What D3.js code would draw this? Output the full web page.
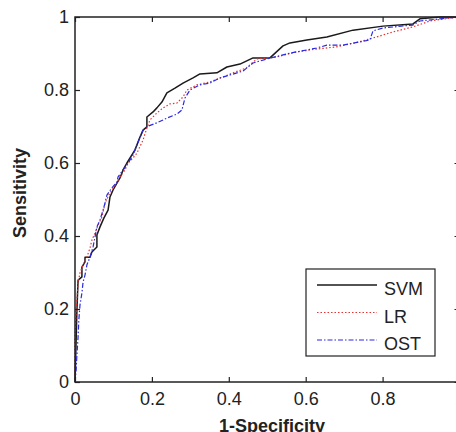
<!DOCTYPE html>
<html>
<head>
<meta charset="utf-8">
<script src="https://cdn.jsdelivr.net/npm/d3@7"></script>
<style>
  html, body { margin: 0; padding: 0; background: #fff; }
  svg { display: block; }
  text { font-family: "Liberation Sans", Arial, sans-serif; fill: #222; }
</style>
</head>
<body>
<svg id="chart" width="456" height="432"></svg>
<script>
// ---- Data ----
const tickValues = [0, 0.2, 0.4, 0.6, 0.8, 1];
const seriesNames = ["SVM", "LR", "OST"];

const svmFpr = [0, 0.003, 0.005, 0.008, 0.018, 0.018, 0.026, 0.026, 0.039, 0.044, 0.057, 0.057, 0.065, 0.075, 0.086, 0.091, 0.099, 0.109, 0.117, 0.125, 0.135, 0.148, 0.156, 0.169, 0.177, 0.187, 0.187, 0.203, 0.213, 0.226, 0.239, 0.260, 0.281, 0.307, 0.325, 0.369, 0.395, 0.429, 0.463, 0.507, 0.541, 0.559, 0.603, 0.655, 0.723, 0.801, 0.879, 0.897, 0.949, 1];
const svmTpr = [0, 0.115, 0.197, 0.279, 0.288, 0.315, 0.329, 0.342, 0.342, 0.356, 0.370, 0.403, 0.425, 0.449, 0.471, 0.507, 0.526, 0.545, 0.559, 0.581, 0.600, 0.622, 0.636, 0.671, 0.690, 0.699, 0.726, 0.740, 0.751, 0.767, 0.792, 0.805, 0.819, 0.833, 0.844, 0.847, 0.863, 0.871, 0.888, 0.888, 0.921, 0.929, 0.937, 0.945, 0.964, 0.975, 0.981, 0.995, 1, 1];

const lrFpr = [0, 0, 0.003, 0.005, 0.008, 0.013, 0.021, 0.031, 0.039, 0.044, 0.052, 0.060, 0.070, 0.078, 0.091, 0.109, 0.117, 0.130, 0.138, 0.151, 0.161, 0.177, 0.187, 0.195, 0.213, 0.229, 0.247, 0.265, 0.281, 0.291, 0.317, 0.351, 0.385, 0.411, 0.445, 0.473, 0.523, 0.575, 0.627, 0.679, 0.715, 0.739, 0.783, 0.827, 0.879, 0.923, 0.962, 1];
const lrTpr = [0, 0.115, 0.197, 0.225, 0.271, 0.299, 0.321, 0.342, 0.367, 0.389, 0.408, 0.430, 0.452, 0.490, 0.518, 0.545, 0.562, 0.581, 0.600, 0.614, 0.627, 0.663, 0.696, 0.718, 0.737, 0.751, 0.762, 0.764, 0.781, 0.800, 0.814, 0.822, 0.836, 0.847, 0.860, 0.885, 0.890, 0.904, 0.912, 0.918, 0.926, 0.932, 0.945, 0.959, 0.973, 0.989, 0.995, 1];

const ostFpr = [0, 0.003, 0.005, 0.008, 0.010, 0.013, 0.018, 0.021, 0.026, 0.031, 0.039, 0.047, 0.052, 0.057, 0.065, 0.073, 0.078, 0.083, 0.096, 0.109, 0.112, 0.125, 0.138, 0.151, 0.161, 0.177, 0.190, 0.213, 0.239, 0.265, 0.278, 0.286, 0.299, 0.325, 0.351, 0.377, 0.403, 0.437, 0.463, 0.499, 0.559, 0.629, 0.655, 0.697, 0.767, 0.775, 0.801, 0.879, 0.897, 0.949, 1];
const ostTpr = [0, 0.033, 0.074, 0.123, 0.170, 0.211, 0.244, 0.274, 0.293, 0.321, 0.342, 0.370, 0.397, 0.425, 0.444, 0.471, 0.490, 0.512, 0.532, 0.548, 0.562, 0.581, 0.600, 0.622, 0.649, 0.690, 0.701, 0.710, 0.723, 0.734, 0.745, 0.778, 0.800, 0.814, 0.819, 0.833, 0.841, 0.852, 0.874, 0.885, 0.901, 0.915, 0.923, 0.923, 0.937, 0.962, 0.970, 0.978, 0.989, 0.995, 1];

const series = [
  { name: seriesNames[0], fpr: svmFpr, tpr: svmTpr, color: "#1a1a1a", dash: null, width: 1.5 },
  { name: seriesNames[1], fpr: lrFpr,  tpr: lrTpr,  color: "#e8312f", dash: "1.5,2", width: 1.2 },
  { name: seriesNames[2], fpr: ostFpr, tpr: ostTpr, color: "#2a2ae0", dash: "5,2,1.5,2", width: 1.2 }
];

// ---- Layout ----
const svg = d3.select("#chart");
const mLeft = 75, mRight = 459.5, mTop = 17, mBottom = 382;
const x = d3.scaleLinear().domain([0, 1]).range([mLeft, mRight]);
const y = d3.scaleLinear().domain([0, 1]).range([mBottom, mTop]);
const fmt = d3.format("~g");
const fontSize = 18;

// Curves
const line = d3.line().x(d => x(d[0])).y(d => y(d[1]));
series.forEach(s => {
  const pts = s.fpr.map((v, i) => [v, s.tpr[i]]);
  svg.append("path")
    .datum(pts)
    .attr("d", line)
    .attr("fill", "none")
    .attr("stroke", s.color)
    .attr("stroke-width", s.width)
    .attr("stroke-dasharray", s.dash)
    .attr("stroke-linejoin", "round");
});

// Axes
function styleAxis(g, showLabels) {
  g.select(".domain").remove();
  g.selectAll(".tick line").attr("stroke", "#222").attr("stroke-width", 1.2);
  if (!showLabels) g.selectAll(".tick text").remove();
  else g.selectAll(".tick text").attr("font-size", fontSize).attr("fill", "#222")
        .attr("font-family", "Liberation Sans, Arial, sans-serif");
}

svg.append("g").attr("transform", `translate(0,${mBottom})`)
  .call(d3.axisBottom(x).tickValues(tickValues).tickFormat(fmt).tickSizeInner(-5).tickSizeOuter(0).tickPadding(10))
  .call(g => styleAxis(g, true));
svg.append("g").attr("transform", `translate(${mLeft},0)`)
  .call(d3.axisLeft(y).tickValues(tickValues).tickFormat(fmt).tickSizeInner(-5).tickSizeOuter(0).tickPadding(6))
  .call(g => styleAxis(g, true));
svg.append("g").attr("transform", `translate(0,${mTop})`)
  .call(d3.axisTop(x).tickValues(tickValues).tickSizeInner(-5).tickSizeOuter(0))
  .call(g => styleAxis(g, false));
svg.append("g").attr("transform", `translate(${mRight},0)`)
  .call(d3.axisRight(y).tickValues(tickValues).tickSizeInner(-5).tickSizeOuter(0))
  .call(g => styleAxis(g, false));

// Frame
svg.append("rect")
  .attr("x", mLeft).attr("y", mTop)
  .attr("width", mRight - mLeft).attr("height", mBottom - mTop)
  .attr("fill", "none").attr("stroke", "#222").attr("stroke-width", 1.5);

// Axis titles
svg.append("text")
  .attr("x", 272).attr("y", 432)
  .attr("text-anchor", "middle")
  .attr("font-size", fontSize).attr("font-weight", "bold")
  .text("1-Specificity");
svg.append("text")
  .attr("transform", `translate(26,193) rotate(-90)`)
  .attr("text-anchor", "middle")
  .attr("font-size", fontSize).attr("font-weight", "bold")
  .text("Sensitivity");

// Legend
const lg = svg.append("g");
lg.append("rect")
  .attr("x", 306).attr("y", 269).attr("width", 129).attr("height", 87)
  .attr("fill", "#fff").attr("stroke", "#222").attr("stroke-width", 1.2);
const legY = d3.scalePoint().domain(seriesNames).range([285, 340]);
series.forEach(s => {
  const yy = legY(s.name);
  lg.append("line")
    .attr("x1", 317).attr("x2", 377).attr("y1", yy).attr("y2", yy)
    .attr("stroke", s.color).attr("stroke-width", s.width)
    .attr("stroke-dasharray", s.dash);
  lg.append("text")
    .attr("x", 384).attr("y", yy + 10)
    .attr("font-size", fontSize)
    .text(s.name);
});
</script>
</body>
</html>
